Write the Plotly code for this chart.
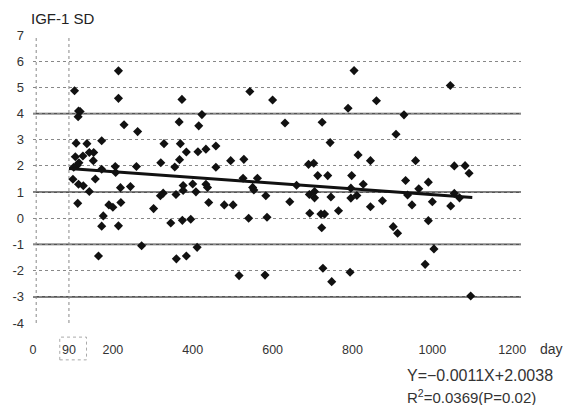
import plotly.graph_objects as go

# ---- data ----
days = [104, 114, 118, 113, 108, 135, 106, 125, 141, 152, 151, 115, 110, 100, 114, 126, 141, 156, 112, 102,
        172, 172, 164, 172, 176, 190, 200, 214, 219, 220, 214, 214, 228, 262, 206, 207, 244, 259, 272, 302,
        320, 328, 319, 326, 345, 355, 358, 359, 367, 366, 369, 373, 376, 376, 374, 384, 384, 395, 400, 408,
        411, 413, 415, 423, 433, 433, 437, 440, 458, 458, 479, 495, 501, 516, 528, 526, 543, 540, 550, 553,
        562, 583, 586, 581, 600, 631, 643, 660, 690, 703, 713, 692, 705, 705, 693, 721, 730, 723, 724, 726,
        738, 744, 746, 748, 765, 789, 794, 796, 796, 798, 804, 811, 814, 827, 845, 845, 860, 875, 902, 913,
        909, 929, 933, 938, 949, 958, 966, 990, 990, 1000, 1004, 982, 1045, 1046, 1055, 1055, 1068, 1082, 1092, 1096]
igf_sd = [4.87, 4.10, 4.08, 3.88, 2.87, 2.85, 2.35, 2.38, 2.51, 2.51, 2.20, 2.12, 2.02, 1.49, 1.30, 1.24, 1.02, 1.50, 0.57, 1.95,
          2.96, 1.87, -1.44, -0.30, 0.09, 0.51, 0.42, -0.29, 1.17, 0.60, 5.63, 4.58, 3.57, 3.31, 1.98, 1.75, 1.21, 1.98, -1.05, 0.37,
          2.12, 2.85, 0.86, 0.96, -0.18, 1.96, 0.91, -1.55, 2.24, 3.68, 2.85, 4.54, 1.25, 1.06, -0.08, 2.53, -1.44, -0.04, 1.31, 1.01,
          -1.11, 2.54, 3.53, 3.96, 2.64, 1.30, 1.18, 0.60, 2.76, 1.95, 0.51, 2.20, 0.51, -2.19, 2.25, 1.53, 4.84, 0.00, 1.18, 1.08,
          1.53, 0.86, 0.04, -2.17, 4.52, 3.64, 0.63, 1.26, 2.06, 2.10, 1.63, 0.91, 1.02, 0.78, 0.19, 0.16, 0.16, -0.36, 3.67, -1.91,
          1.63, 2.89, 0.81, -2.42, 0.29, 4.20, -2.06, 0.77, 1.15, 1.63, 5.64, 0.87, 2.42, 1.30, 2.20, 0.44, 4.49, 0.67, -0.32, -0.57,
          3.21, 3.95, 1.44, 0.89, 0.51, 2.20, 1.13, 1.38, -0.09, 0.63, -1.17, -1.76, 5.07, 0.47, 2.00, 0.95, 0.78, 2.01, 1.72, -2.97]

slope = -0.0011
intercept = 2.0038
fit_days = [90, 1100]
fit_vals = [slope * d + intercept for d in fit_days]

x_tick_vals = [0, 90, 200, 400, 600, 800, 1000, 1200]
x_tick_text = ["0", "90", "200", "400", "600", "800", "1000", "1200"]
y_tick_vals = [7, 6, 5, 4, 3, 2, 1, 0, -1, -2, -3, -4]
y_tick_text = ["7", "6", "5", "4", "3", "2", "1", "0", "-1", "-2", "-3", "-4"]
solid_grid_vals = [4, 1, -1, -3]
vertical_ref_days = [0, 90]

FONT = "Liberation Sans, Arial, sans-serif"

fig = go.Figure()
fig.add_trace(go.Scatter(
    x=days, y=igf_sd, mode="markers",
    marker=dict(symbol="diamond", size=7, color="#111111"),
    showlegend=False, cliponaxis=False))
fig.add_trace(go.Scatter(
    x=fit_days, y=fit_vals, mode="lines",
    line=dict(color="#111111", width=3),
    showlegend=False))

shapes = []
for v in solid_grid_vals:
    shapes.append(dict(type="line", xref="paper", yref="y", x0=0, x1=1, y0=v, y1=v,
                       line=dict(color="#555555", width=1.8), layer="below"))
for d in vertical_ref_days:
    shapes.append(dict(type="line", xref="x", yref="paper", x0=d + (8 if d == 0 else 0),
                       x1=d + (8 if d == 0 else 0), y0=0, y1=1,
                       line=dict(color="#888888", width=1, dash="dot"), layer="below"))
# dotted box round the "90" tick label
shapes.append(dict(type="rect", xref="x", yref="paper", x0=67, x1=134, y0=-0.128, y1=-0.049,
                   line=dict(color="#aaaaaa", width=1, dash="dot")))

fig.update_layout(
    width=564, height=405,
    margin=dict(l=30, r=43, t=35, b=82),
    paper_bgcolor="white", plot_bgcolor="white",
    font=dict(family=FONT, color="#333333"),
    shapes=shapes,
    xaxis=dict(range=[0, 1222], tickvals=x_tick_vals, ticktext=x_tick_text,
               showgrid=False, zeroline=False, showline=False, ticks="",
               tickfont=dict(size=12.5, color="#333333"), ticklabelstandoff=17),
    yaxis=dict(range=[-4, 7], tickvals=y_tick_vals, ticktext=y_tick_text,
               showgrid=True, gridcolor="#888888", gridwidth=1, griddash="dot",
               zeroline=False, showline=False, ticks="",
               tickfont=dict(size=13, color="#333333"), ticklabelstandoff=8),
    annotations=[
        dict(text="IGF-1 SD", xref="paper", yref="paper", x=-0.008, y=1.059,
             xanchor="left", yanchor="middle", showarrow=False,
             font=dict(size=15, color="#222222")),
        dict(text="day", xref="paper", yref="paper", x=1.063, y=-0.090,
             xanchor="center", yanchor="middle", showarrow=False,
             font=dict(size=14, color="#333333")),
        dict(text="Y=\u22120.0011X+2.0038", xref="paper", yref="paper", x=0.763, y=-0.182,
             xanchor="left", yanchor="middle", showarrow=False,
             font=dict(size=16, color="#333333")),
        dict(text="R<sup>2</sup>=0.0369(P=0.02)", xref="paper", yref="paper", x=0.763, y=-0.255,
             xanchor="left", yanchor="middle", showarrow=False,
             font=dict(size=15, color="#333333")),
    ],
)

fig.write_html("out.html")
